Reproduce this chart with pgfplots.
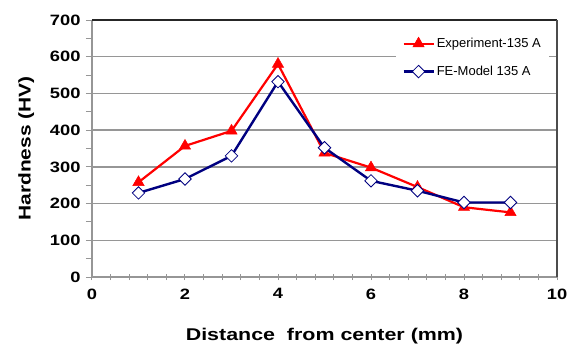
\documentclass[border=0pt]{standalone}
\usepackage{pgfplots}
\pgfplotsset{compat=1.18}
\usepackage{fontspec}
\setmainfont{Liberation Sans}
\usepackage{graphicx}
\definecolor{navyb}{RGB}{0,0,128}
\definecolor{gridg}{RGB}{150,150,150}
\begin{document}
\begin{tikzpicture}
\begin{axis}[
  scale only axis,
  width=465pt, height=257pt,
  xmin=0, xmax=10, ymin=0, ymax=700,
  xtick={0,2,...,10}, ytick={0,100,...,700},
  minor x tick num=4, minor y tick num=1,
  axis x line*=bottom, axis y line*=left,
  axis line style={gridg, line width=1.2pt, -},
  ymajorgrids, major grid style={gridg, line width=1.3pt},
  major tick length=6pt, minor tick length=6pt,
  ytick pos=left, xtick pos=bottom,
  ytick align=outside, xtick align=center,
  every tick/.style={gridg, line width=1pt},
  /pgf/number format/assume math mode=true,
  xticklabel={\scalebox{1.22}[1]{\fontsize{15}{15}\selectfont\bfseries\pgfmathprintnumber{\tick}}},
  yticklabel={\scalebox{1.22}[1]{\fontsize{15}{15}\selectfont\bfseries\pgfmathprintnumber{\tick}}},
  xticklabel style={yshift=-5pt},
  yticklabel style={xshift=-2pt},
  xlabel={\scalebox{1.26}[1]{\fontsize{17}{17}\selectfont\bfseries Distance\ \ from center (mm)}},
  ylabel={\scalebox{1.23}[1]{\fontsize{17}{17}\selectfont\bfseries Hardness (HV)}},
  xlabel style={yshift=-22pt},
  ylabel style={yshift=9pt},
  legend style={at={(rel axis cs:1,1)}, anchor=north east, xshift=-8pt, yshift=-8pt,
    draw=none, fill=white, font=\fontsize{13}{13}\selectfont,
    row sep=13pt, inner xsep=6pt, inner ysep=8pt},
  legend cell align=left,
  legend image code/.code={
    \draw[#1, mark repeat=2, mark phase=2] plot coordinates {(0pt,0pt) (15pt,0pt) (30pt,0pt)};
  },
  clip=false,
]
\addplot[red, line width=2.2pt, mark=triangle*, mark size=6.5pt, mark options={solid, fill=red, draw=red, line width=0.5pt}]
  coordinates {(1,258) (2,357) (3,398) (4,580) (5,338) (6,298) (7,245) (8,190) (9,176)};
\addlegendentry{Experiment-135 A}
\addplot[navyb, line width=2.4pt, mark=square*, mark size=4.4pt, mark options={solid, rotate=45, fill=white, draw=navyb, line width=0.8pt}]
  coordinates {(1,229) (2,267) (3,330) (4,532) (5,352) (6,262) (7,235) (8,203) (9,203)};
\addlegendentry{FE-Model 135 A}
\draw[black!85, line width=1.3pt] (rel axis cs:0,1) -- (rel axis cs:1,1);
\draw[black!70, line width=1.6pt] (rel axis cs:1,1) -- (rel axis cs:1,0);
\end{axis}
\pgfresetboundingbox
\path (-92pt,-77pt) rectangle (481pt,277pt);
\end{tikzpicture}
\end{document}
